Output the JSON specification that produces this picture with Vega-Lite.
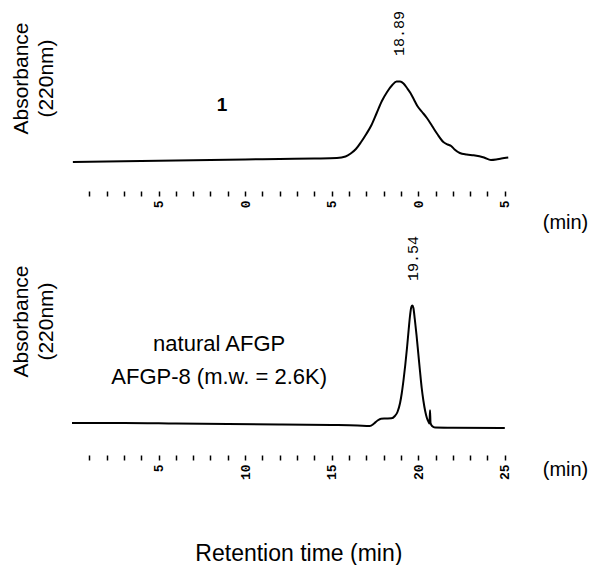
{
  "$schema": "https://vega.github.io/schema/vega-lite/v6.json",
  "padding": {"left": 10, "top": 8, "right": 2, "bottom": 3},
  "config": {
    "view": {"stroke": null},
    "font": "Liberation Sans",
    "concat": {"spacing": 3}
  },
  "title": {"text": "Retention time (min)", "orient": "bottom", "anchor": "middle", "fontSize": 23, "fontWeight": "normal", "font": "Liberation Sans", "color": "black", "offset": 63},
  "datasets": {
    "trace1": [
      {"t": 0.05, "a": 6}, {"t": 2, "a": 6.5}, {"t": 4, "a": 7}, {"t": 6, "a": 7.5}, {"t": 8, "a": 8}, {"t": 10, "a": 8.5},
      {"t": 12, "a": 9}, {"t": 14, "a": 9.5}, {"t": 15.3, "a": 10}, {"t": 15.8, "a": 11.5}, {"t": 16.1, "a": 14.5},
      {"t": 16.4, "a": 19}, {"t": 16.7, "a": 26}, {"t": 17.0, "a": 34}, {"t": 17.3, "a": 43}, {"t": 17.6, "a": 55},
      {"t": 17.9, "a": 67}, {"t": 18.2, "a": 76}, {"t": 18.5, "a": 83}, {"t": 18.75, "a": 86.5}, {"t": 18.95, "a": 86.5},
      {"t": 19.15, "a": 84.5}, {"t": 19.35, "a": 80}, {"t": 19.55, "a": 75}, {"t": 19.75, "a": 68.5}, {"t": 19.95, "a": 62},
      {"t": 20.2, "a": 56.5}, {"t": 20.5, "a": 50}, {"t": 20.8, "a": 42}, {"t": 21.1, "a": 34}, {"t": 21.45, "a": 26},
      {"t": 21.7, "a": 23.5}, {"t": 21.9, "a": 22}, {"t": 22.1, "a": 18.5}, {"t": 22.4, "a": 15}, {"t": 22.8, "a": 13.5},
      {"t": 23.2, "a": 12.7}, {"t": 23.8, "a": 10.5}, {"t": 24.2, "a": 8}, {"t": 24.5, "a": 8.5}, {"t": 24.8, "a": 9.5},
      {"t": 25.2, "a": 10.5}
    ],
    "trace2": [
      {"t": 0, "a": 10}, {"t": 3, "a": 10}, {"t": 6, "a": 9.5}, {"t": 9, "a": 9}, {"t": 12, "a": 8.5}, {"t": 15, "a": 8},
      {"t": 16.5, "a": 7.5}, {"t": 17.2, "a": 7}, {"t": 17.45, "a": 9.5}, {"t": 17.65, "a": 12.5}, {"t": 17.85, "a": 14.3},
      {"t": 18.1, "a": 14.5}, {"t": 18.45, "a": 14.7}, {"t": 18.65, "a": 17}, {"t": 18.8, "a": 21}, {"t": 18.95, "a": 30},
      {"t": 19.05, "a": 40}, {"t": 19.15, "a": 53}, {"t": 19.25, "a": 68}, {"t": 19.35, "a": 85}, {"t": 19.45, "a": 104},
      {"t": 19.53, "a": 118}, {"t": 19.6, "a": 126}, {"t": 19.66, "a": 127.5}, {"t": 19.72, "a": 125}, {"t": 19.8, "a": 114},
      {"t": 19.9, "a": 98}, {"t": 20.0, "a": 80}, {"t": 20.1, "a": 62}, {"t": 20.2, "a": 45}, {"t": 20.3, "a": 32},
      {"t": 20.4, "a": 22}, {"t": 20.5, "a": 15}, {"t": 20.6, "a": 11}, {"t": 20.65, "a": 9.5}, {"t": 20.68, "a": 22.7},
      {"t": 20.71, "a": 10}, {"t": 20.8, "a": 7}, {"t": 20.97, "a": 5.5}, {"t": 22, "a": 5.3}, {"t": 25, "a": 5}
    ]
  },
  "vconcat": [
    {
      "width": 438,
      "height": 160,
      "layer": [
        {
          "data": {"name": "trace1"},
          "mark": {"type": "line", "color": "black", "strokeWidth": 2, "interpolate": "monotone"},
          "encoding": {
            "x": {"field": "t", "type": "quantitative", "scale": {"domain": [0, 25.3], "nice": false, "zero": false},
              "axis": {"values": [1,2,3,4,5,6,7,8,9,10,11,12,13,14,15,16,17,18,19,20,21,22,23,24,25], "tickCount": 40, "format": "d",
                "labelExpr": "datum.value % 5 === 0 ? substring(datum.label, length(datum.label) - 1) : ''",
                "offset": 23, "domain": false, "grid": false, "tickSize": 5, "tickWidth": 1.5, "tickColor": "black",
                "labelAngle": 270, "labelAlign": "right", "labelBaseline": "middle", "labelFont": "Liberation Mono",
                "labelFontSize": 13, "labelFontWeight": "bold", "labelPadding": 4, "labelOverlap": false, "labelColor": "black",
                "title": "(min)", "titleX": 493, "titleY": 31, "titleFontSize": 20, "titleFontWeight": "normal",
                "titleAlign": "center", "titleBaseline": "middle", "titleColor": "black", "titleFont": "Liberation Sans"}},
            "y": {"field": "a", "type": "quantitative", "scale": {"domain": [0, 160], "nice": false},
              "axis": {"title": ["Absorbance", "(220nm)"], "domain": false, "ticks": false, "labels": false, "grid": false,
                "titleFontSize": 21, "titleFontWeight": "normal", "titleColor": "black", "titleFont": "Liberation Sans",
                "titleLineHeight": 25, "titlePadding": 16, "titleY": 70}}
          }
        },
        {
          "data": {"values": [{"t": 18.89, "label": "18.89"}]},
          "mark": {"type": "text", "angle": 270, "align": "left", "baseline": "middle", "font": "Liberation Mono", "fontSize": 15, "color": "black"},
          "encoding": {
            "x": {"field": "t", "type": "quantitative"},
            "y": {"datum": 112},
            "text": {"field": "label"}
          }
        },
        {
          "data": {"values": [{"label": "1"}]},
          "mark": {"type": "text", "fontSize": 19, "fontWeight": "bold", "font": "Liberation Sans", "color": "black", "baseline": "middle"},
          "encoding": {
            "x": {"datum": 8.67},
            "y": {"datum": 63},
            "text": {"field": "label"}
          }
        }
      ]
    },
    {
      "width": 438,
      "height": 160,
      "layer": [
        {
          "data": {"name": "trace2"},
          "mark": {"type": "line", "color": "black", "strokeWidth": 2, "interpolate": "monotone"},
          "encoding": {
            "x": {"field": "t", "type": "quantitative", "scale": {"domain": [0, 25.3], "nice": false, "zero": false},
              "axis": {"values": [1,2,3,4,5,6,7,8,9,10,11,12,13,14,15,16,17,18,19,20,21,22,23,24,25], "tickCount": 40, "format": "d",
                "labelExpr": "datum.value % 5 === 0 ? datum.label : ''",
                "offset": 22, "domain": false, "grid": false, "tickSize": 5, "tickWidth": 1.5, "tickColor": "black",
                "labelAngle": 270, "labelAlign": "right", "labelBaseline": "middle", "labelFont": "Liberation Mono",
                "labelFontSize": 13, "labelFontWeight": "bold", "labelPadding": 4, "labelOverlap": false, "labelColor": "black",
                "title": "(min)", "titleX": 493, "titleY": 14, "titleFontSize": 20, "titleFontWeight": "normal",
                "titleAlign": "center", "titleBaseline": "middle", "titleColor": "black", "titleFont": "Liberation Sans"}},
            "y": {"field": "a", "type": "quantitative", "scale": {"domain": [0, 160], "nice": false},
              "axis": {"title": ["Absorbance", "(220nm)"], "domain": false, "ticks": false, "labels": false, "grid": false,
                "titleFontSize": 21, "titleFontWeight": "normal", "titleColor": "black", "titleFont": "Liberation Sans",
                "titleLineHeight": 25, "titlePadding": 16, "titleY": 48}}
          }
        },
        {
          "data": {"values": [{"t": 19.7, "label": "19.54"}]},
          "mark": {"type": "text", "angle": 270, "align": "left", "baseline": "middle", "font": "Liberation Mono", "fontSize": 15, "color": "black"},
          "encoding": {
            "x": {"field": "t", "type": "quantitative"},
            "y": {"datum": 152},
            "text": {"field": "label"}
          }
        },
        {
          "data": {"values": [{"line1": "natural AFGP", "line2": "AFGP-8 (m.w. = 2.6K)"}]},
          "layer": [
            {
              "mark": {"type": "text", "fontSize": 22, "font": "Liberation Sans", "color": "black", "baseline": "middle"},
              "encoding": {"x": {"datum": 8.5}, "y": {"datum": 89}, "text": {"field": "line1"}}
            },
            {
              "mark": {"type": "text", "fontSize": 22, "font": "Liberation Sans", "color": "black", "baseline": "middle"},
              "encoding": {"x": {"datum": 8.5}, "y": {"datum": 56}, "text": {"field": "line2"}}
            }
          ]
        }
      ]
    }
  ]
}
